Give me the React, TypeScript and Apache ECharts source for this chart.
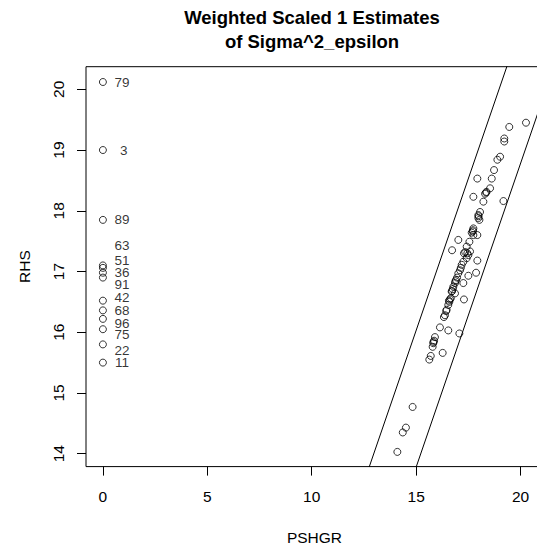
import React, { useEffect, useRef } from "react";
import * as echarts from "echarts";

const FONT = '"Liberation Sans", Arial, Helvetica, sans-serif';

// PSHGR / RHS pairs
const pshgr = [
  0, 0, 0, 0, 0, 0, 0, 0, 0, 0, 0, 0, 0,
  20.26, 19.46, 19.22, 19.22, 19.02, 18.89, 18.73, 18.62, 17.93, 18.54,
  18.37, 18.30, 17.74, 19.18, 18.22, 18.06, 17.98, 17.98, 18.03, 17.74,
  17.71, 17.74, 17.93, 17.55, 17.02, 16.72, 17.42, 17.58, 17.50, 17.42,
  17.29, 17.93, 17.26, 17.18, 17.10, 17.02, 17.87, 17.50, 16.91, 16.86,
  16.78, 16.75, 17.26, 16.70, 16.86, 16.66, 16.59, 17.29, 16.54, 16.46,
  16.38, 16.33, 16.14, 16.54, 17.07, 15.90, 15.86, 15.82, 15.79, 16.27,
  15.70, 15.63, 14.83, 14.51, 14.36, 14.10,
  18.35, 17.99, 17.72, 17.35, 16.88, 16.72, 16.57, 15.83, 17.14, 16.44,
  16.96, 17.45, 16.62, 17.66,
];
const rhs = [
  20.12, 19.0, 17.85, 17.10, 17.06, 16.98, 16.90, 16.52, 16.36, 16.22, 16.05, 15.80, 15.50,
  19.45, 19.38, 19.19, 19.14, 18.89, 18.84, 18.67, 18.53, 18.53, 18.37,
  18.31, 18.28, 18.23, 18.16, 18.15, 17.98, 17.93, 17.88, 17.85, 17.71,
  17.66, 17.60, 17.60, 17.49, 17.52, 17.35, 17.41, 17.33, 17.27, 17.22,
  17.30, 17.18, 17.16, 17.11, 17.02, 16.97, 16.98, 16.93, 16.86, 16.81,
  16.75, 16.71, 16.81, 16.67, 16.64, 16.56, 16.50, 16.54, 16.45, 16.37,
  16.28, 16.25, 16.08, 16.03, 15.98, 15.92, 15.86, 15.82, 15.76, 15.66,
  15.61, 15.55, 14.77, 14.43, 14.35, 14.03,
  18.30, 17.91, 17.68, 17.32, 16.84, 16.68, 16.52, 15.84, 17.06, 16.35,
  16.90, 17.30, 16.54, 17.64,
];

// observation labels beside the PSHGR = 0 points
const labelIds = ["79", " 3", "89", "63", "51", "36", "91", "42", "68", "96", "75", "22", "11"];
const labelRHS = [20.12, 19.0, 17.85, 17.42, 17.18, 16.98, 16.79, 16.57, 16.36, 16.15, 15.97, 15.70, 15.50];

// band lines (two end points each)
const upperLine = [[12.0, 13.03], [22.0, 23.03]];
const lowerLine = [[14.0, 12.78], [23.0, 21.78]];

const xTicks = [0, 5, 10, 15, 20];
const yTicks = [14, 15, 16, 17, 18, 19, 20];

export default function App() {
  const ref = useRef<HTMLDivElement>(null);
  useEffect(() => {
    if (!ref.current) return;
    const chart = echarts.init(ref.current, null, { renderer: "svg" });
    const pts = pshgr.map((x, i) => [x, rhs[i]]);
    const lbl = labelRHS.map((y, i) => ({ value: [0, y], name: labelIds[i] }));
    const axisText = { fontFamily: FONT, fontSize: 15.5, color: "#000" };
    chart.setOption({
      animation: false,
      backgroundColor: "#ffffff",
      title: {
        text: "Weighted Scaled 1 Estimates\nof Sigma^2_epsilon",
        left: 312,
        top: 5,
        padding: 0,
        textAlign: "center",
        textStyle: { fontFamily: FONT, fontSize: 18.5, fontWeight: "bold", color: "#000", lineHeight: 24 },
      },
      grid: {
        left: 86,
        top: 66.7,
        width: 456.9,
        height: 399.9,
        show: true,
        borderColor: "#000",
        borderWidth: 1,
        backgroundColor: "transparent",
        outerBoundsMode: "none",
        containLabel: false,
      },
      xAxis: {
        type: "value",
        min: -0.81,
        max: 21.07,
        axisLine: { show: false, onZero: false },
        splitLine: { show: false },
        axisTick: { show: true, inside: false, length: 9, customValues: xTicks, lineStyle: { color: "#000", width: 1 } },
        axisLabel: { customValues: xTicks, margin: 22, ...axisText },
        name: "PSHGR",
        nameLocation: "middle",
        nameGap: 63,
        nameTextStyle: axisText,
      },
      yAxis: {
        type: "value",
        min: 13.788,
        max: 20.372,
        axisLine: { show: false, onZero: false },
        splitLine: { show: false },
        axisTick: { show: true, inside: false, length: 9, customValues: yTicks, lineStyle: { color: "#000", width: 1 } },
        axisLabel: { customValues: yTicks, rotate: 90, margin: 20, ...axisText },
        name: "RHS",
        nameLocation: "middle",
        nameGap: 54,
        nameTextStyle: axisText,
      },
      series: [
        {
          type: "line",
          data: upperLine,
          showSymbol: false,
          symbol: "none",
          silent: true,
          clip: true,
          lineStyle: { color: "#000", width: 1 },
        },
        {
          type: "line",
          data: lowerLine,
          showSymbol: false,
          symbol: "none",
          silent: true,
          clip: true,
          lineStyle: { color: "#000", width: 1 },
        },
        {
          type: "scatter",
          data: pts,
          symbol: "circle",
          symbolSize: 7,
          itemStyle: { color: "transparent", borderColor: "#000", borderWidth: 1 },
          silent: true,
        },
        {
          type: "scatter",
          data: lbl,
          symbolSize: 0,
          silent: true,
          label: {
            show: true,
            position: "inside",
            offset: [19, 0],
            align: "center",
            verticalAlign: "middle",
            formatter: (p: any) => p.name,
            fontFamily: FONT,
            fontSize: 13.5,
            color: "#000",
          },
        },
      ],
    });
    return () => chart.dispose();
  }, []);
  return (
    <div
      ref={ref}
      style={{ position: "fixed", left: 0, top: 0, width: 537, height: 548, background: "#fff" }}
    />
  );
}
